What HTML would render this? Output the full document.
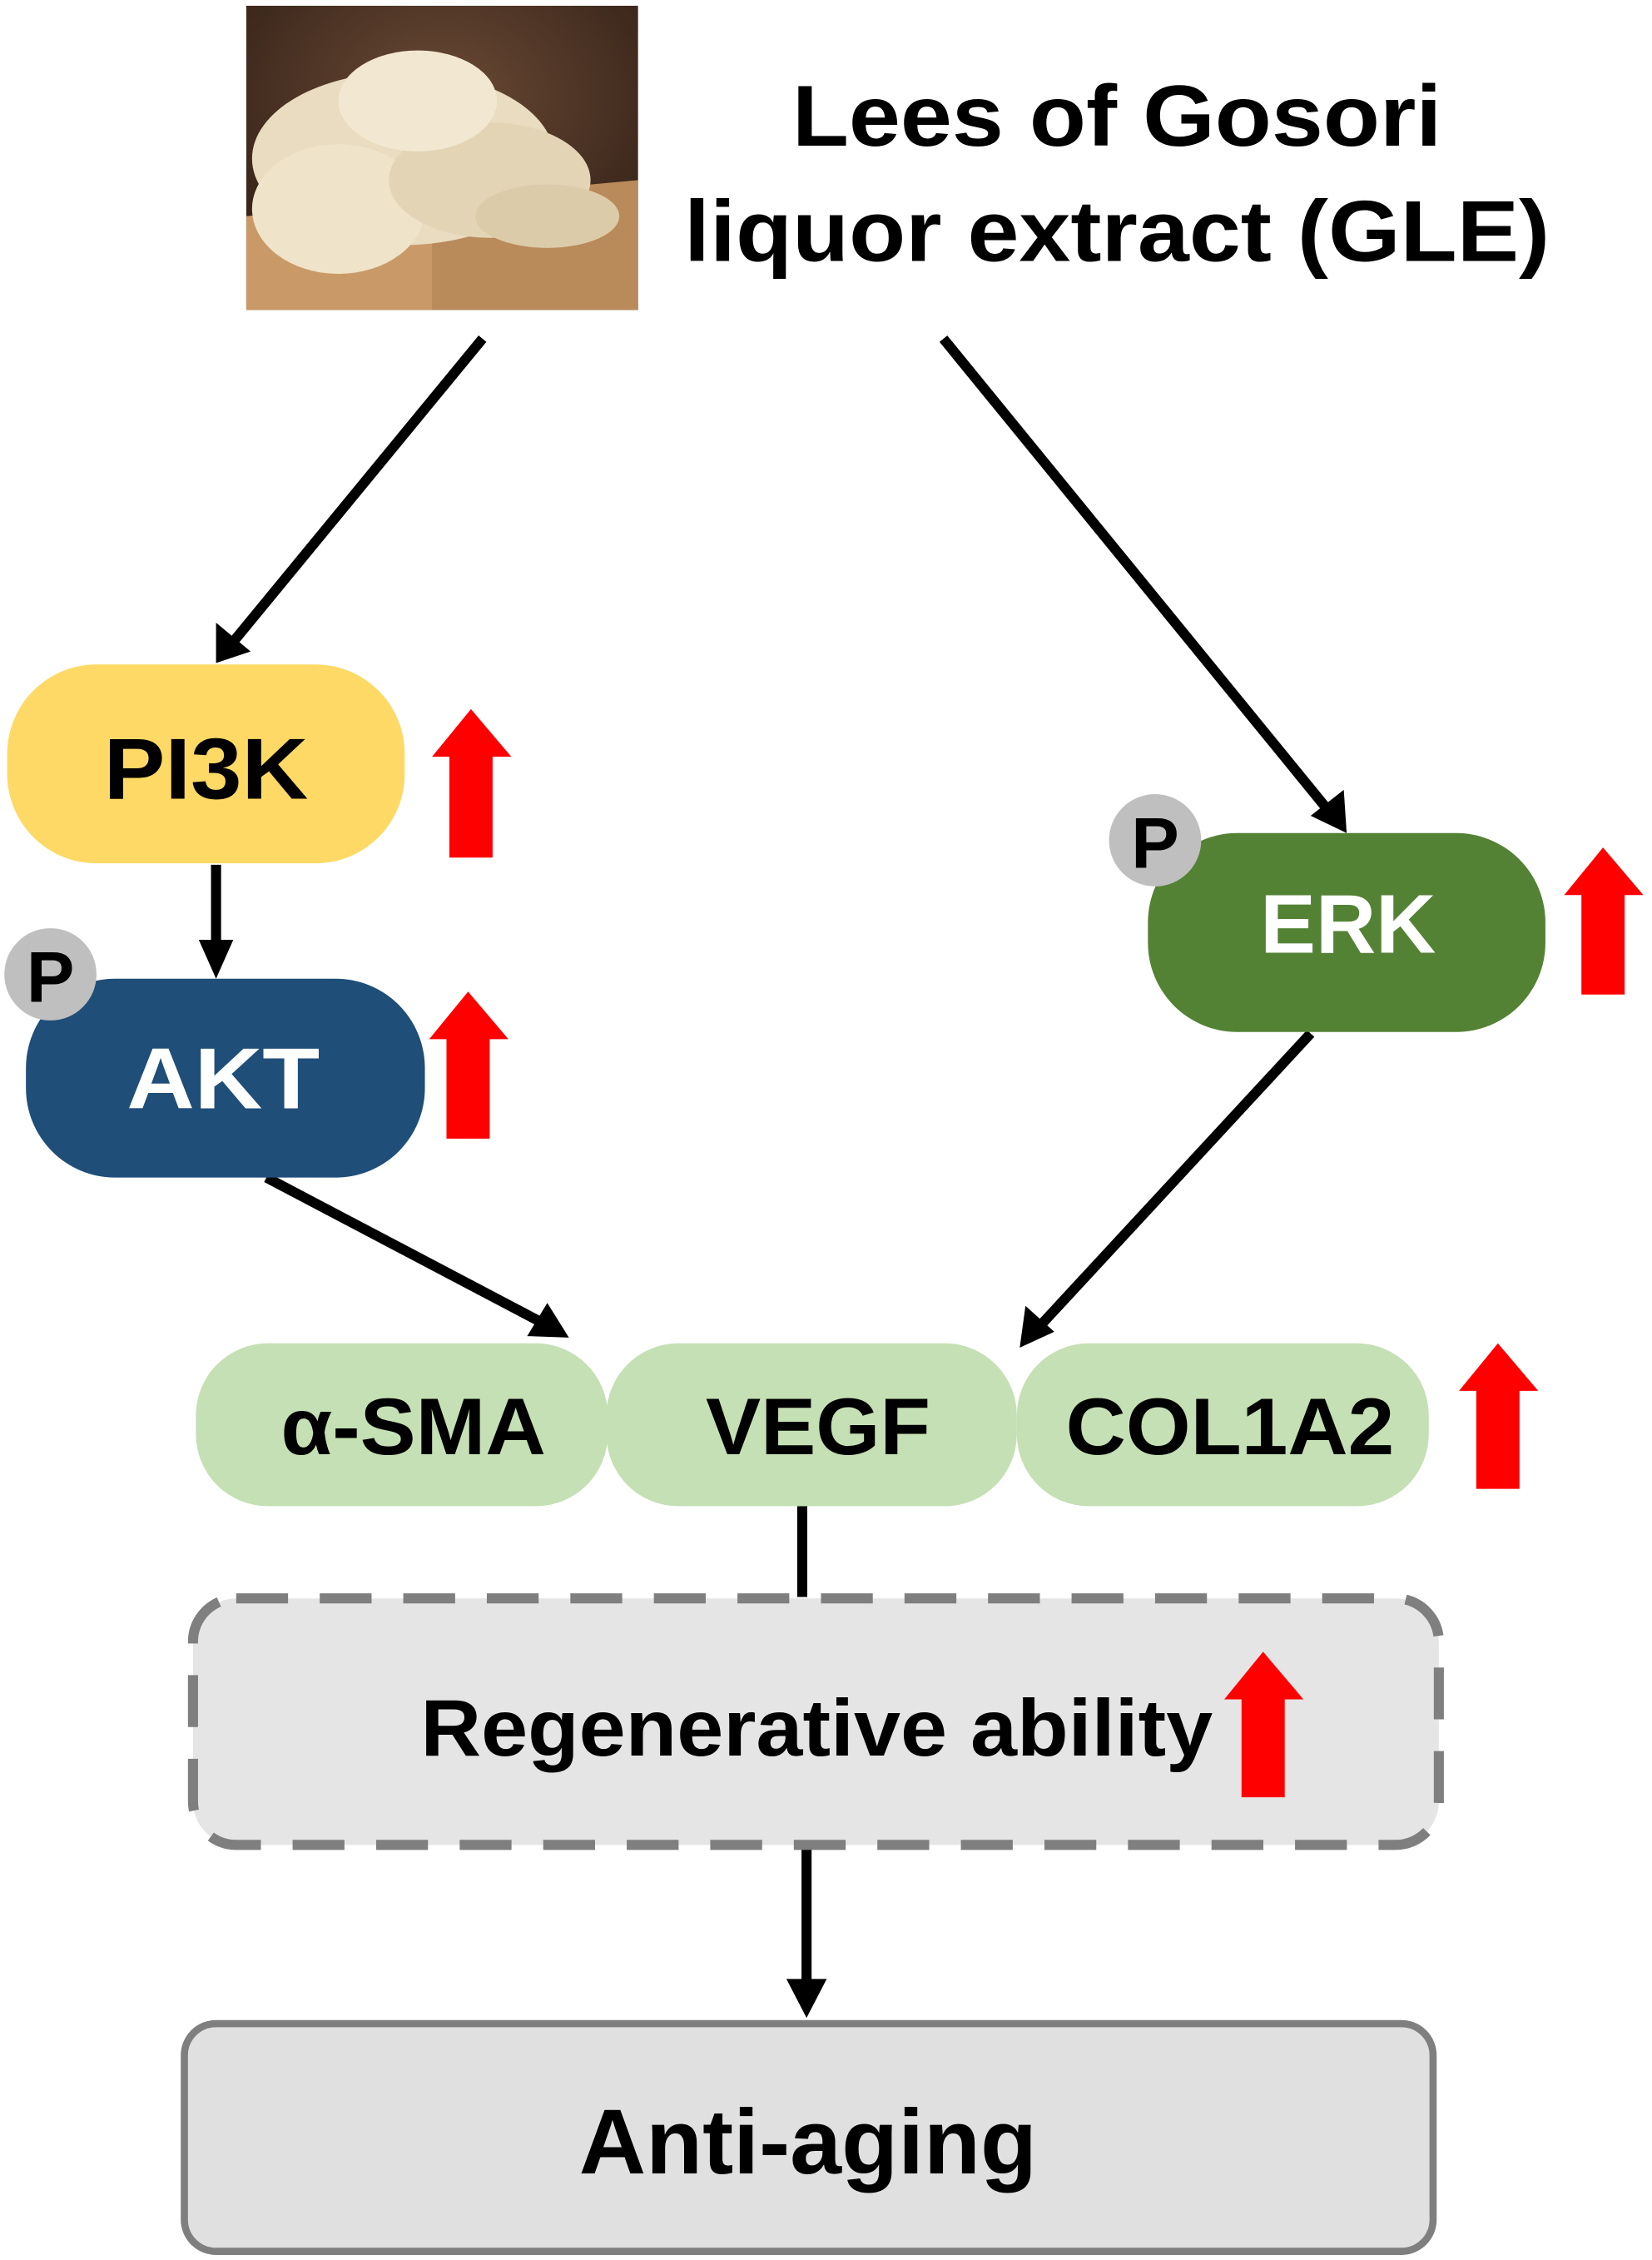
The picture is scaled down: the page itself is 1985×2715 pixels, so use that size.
<!DOCTYPE html>
<html><head><meta charset="utf-8"><style>
html,body{margin:0;padding:0;background:#fff;}
svg{display:block;}
text{font-family:"Liberation Sans",Arial,sans-serif;font-weight:bold;}
</style></head><body>
<svg width="1985" height="2715" viewBox="0 0 1147 1568" preserveAspectRatio="none" xmlns="http://www.w3.org/2000/svg">
<defs>
<radialGradient id="bg" cx="0.5" cy="0.3" r="0.8"><stop offset="0" stop-color="#6b4a35"/><stop offset="1" stop-color="#2a1a12"/></radialGradient>
</defs>
<!-- photo -->
<rect x="171" y="4" width="272" height="211" fill="url(#bg)"/>
<polygon points="171,150 443,125 443,215 171,215" fill="#b98a5a"/>
<polygon points="171,150 300,140 300,215 171,215" fill="#c99a68"/>
<ellipse cx="280" cy="110" rx="105" ry="60" fill="#e9dcc0"/>
<ellipse cx="235" cy="145" rx="60" ry="45" fill="#efe3c9"/>
<ellipse cx="340" cy="125" rx="70" ry="40" fill="#e3d4b6"/>
<ellipse cx="290" cy="70" rx="55" ry="35" fill="#f2e8d2"/>
<ellipse cx="380" cy="150" rx="50" ry="22" fill="#dccba9"/>
<!-- title -->
<text x="550" y="101" font-size="60" textLength="451" lengthAdjust="spacingAndGlyphs">Lees of Gosori</text>
<text x="475" y="181" font-size="60" textLength="601" lengthAdjust="spacingAndGlyphs">liquor extract (GLE)</text>
<!-- arrows -->
<g stroke="#000" stroke-width="7" fill="none">
<line x1="335" y1="235" x2="163" y2="444"/>
<line x1="655" y1="235" x2="922" y2="562"/>
<line x1="150" y1="600" x2="150" y2="660"/>
<line x1="185" y1="817" x2="377" y2="918"/>
<line x1="910" y1="717" x2="722" y2="920"/>
<line x1="557" y1="1045" x2="557" y2="1108"/>
<line x1="560" y1="1283" x2="560" y2="1380"/>
</g>
<g fill="#000">
<polygon points="150,460 150,432 174,452"/>
<polygon points="935,578 910,566 933,548"/>
<polygon points="150,679 138,652 162,652"/>
<polygon points="395,928 366,927 380,904"/>
<polygon points="708,935 712,906 732,924"/>
<polygon points="560,1400 546,1373 574,1373"/>
</g>
<!-- PI3K -->
<rect x="5" y="461" width="276" height="138" rx="62" fill="#FFD966"/>
<text x="72" y="554" font-size="60" textLength="142" lengthAdjust="spacingAndGlyphs">PI3K</text>
<!-- AKT -->
<rect x="18" y="679" width="277" height="138" rx="62" fill="#1F4E79"/>
<text x="88" y="769" font-size="60" fill="#fff" textLength="134" lengthAdjust="spacingAndGlyphs">AKT</text>
<circle cx="35" cy="676" r="32" fill="#BFBFBF"/>
<text x="35" y="695" font-size="50" text-anchor="middle">P</text>
<!-- ERK -->
<rect x="797" y="578" width="276" height="138" rx="62" fill="#548235"/>
<text x="875" y="661" font-size="58" fill="#fff" textLength="122" lengthAdjust="spacingAndGlyphs">ERK</text>
<circle cx="802" cy="583" r="32" fill="#BFBFBF"/>
<text x="802" y="602" font-size="50" text-anchor="middle">P</text>
<!-- green pills -->
<rect x="136" y="932" width="286" height="113" rx="50" fill="#C5E0B4"/>
<rect x="421" y="932" width="285" height="113" rx="50" fill="#C5E0B4"/>
<rect x="706" y="932" width="286" height="113" rx="50" fill="#C5E0B4"/>
<text x="195" y="1009" font-size="56" textLength="184" lengthAdjust="spacingAndGlyphs">α-SMA</text>
<text x="490" y="1009" font-size="56" textLength="156" lengthAdjust="spacingAndGlyphs">VEGF</text>
<text x="740" y="1009" font-size="56" textLength="228" lengthAdjust="spacingAndGlyphs">COL1A2</text>
<!-- regen -->
<rect x="134" y="1109" width="865" height="171" rx="30" fill="#E5E5E5" stroke="#7F7F7F" stroke-width="7" stroke-dasharray="36,22"/>
<text x="292" y="1218" font-size="56" textLength="550" lengthAdjust="spacingAndGlyphs">Regenerative ability</text>
<!-- anti-aging -->
<rect x="128" y="1404" width="867" height="158" rx="22" fill="#E0E0E0" stroke="#7F7F7F" stroke-width="5"/>
<text x="402" y="1508" font-size="64" textLength="318" lengthAdjust="spacingAndGlyphs">Anti-aging</text>
<!-- red up arrows -->
<g fill="#FF0000">
<polygon points="327,492 355,525 342,525 342,595 312,595 312,525 300,525"/>
<polygon points="325,688 353,721 340,721 340,790 310,790 310,721 298,721"/>
<polygon points="1113,588 1141,621 1128,621 1128,690 1098,690 1098,621 1086,621"/>
<polygon points="1040,932 1068,965 1055,965 1055,1033 1025,1033 1025,965 1013,965"/>
<polygon points="877,1146 905,1179 892,1179 892,1247 862,1247 862,1179 850,1179"/>
</g>
</svg>
</body></html>
